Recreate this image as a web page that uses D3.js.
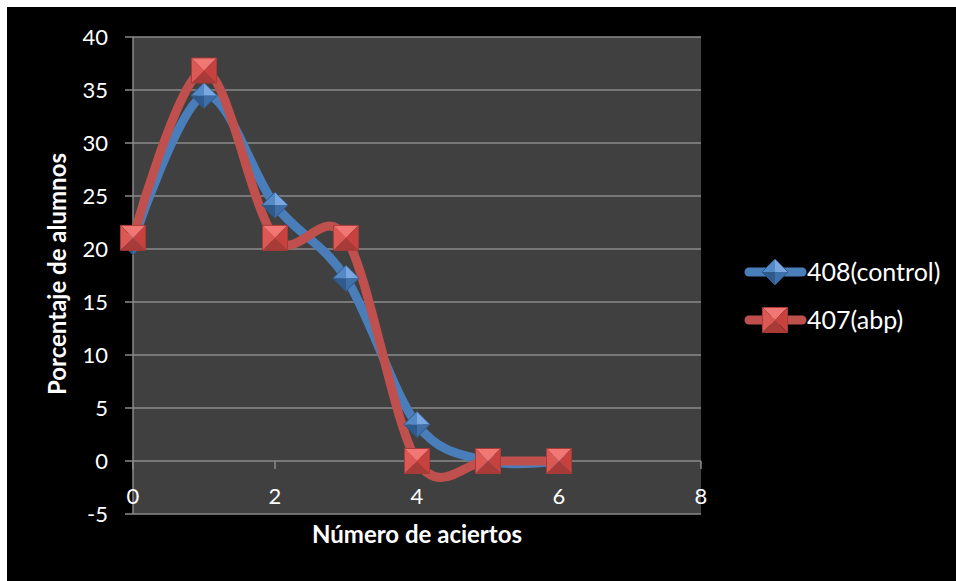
<!DOCTYPE html>
<html>
<head>
<meta charset="utf-8">
<script src="https://cdn.jsdelivr.net/npm/d3@7"></script>
<style>
  html, body { margin: 0; padding: 0; background: #ffffff; }
  svg { display: block; }
  text { font-family: Lato, "Noto Sans", sans-serif; fill: #ffffff; }
</style>
</head>
<body>
<svg id="chart" width="956" height="581"></svg>
<script>
// Aciertos (x) y porcentaje de alumnos (y) por grupo
const aciertos = [0, 1, 2, 3, 4, 5, 6];
const control408 = [20.69, 34.48, 24.14, 17.24, 3.45, 0, 0];
const abp407 = [21.05, 36.84, 21.05, 21.05, 0, 0, 0];
const seriesNames = ["408(control)", "407(abp)"];
const xTicks = [0, 2, 4, 6, 8];
const yTicks = [-5, 0, 5, 10, 15, 20, 25, 30, 35, 40];

const svg = d3.select("#chart");
const W = 956, H = 581;

// chart background
svg.append("rect").attr("x", 7).attr("y", 7).attr("width", W - 7).attr("height", H - 7).attr("fill", "#000");

const x = d3.scaleLinear().domain([0, 8]).range([133, 701]);
const y = d3.scaleLinear().domain([-5, 40]).range([514, 37]);

// plot area
svg.append("rect")
  .attr("x", x(0)).attr("y", y(40))
  .attr("width", x(8) - x(0)).attr("height", y(-5) - y(40))
  .attr("fill", "#404040");

// horizontal gridlines
svg.append("g").selectAll("line").data(yTicks).join("line")
  .attr("x1", x(0) - 8).attr("x2", x(8))
  .attr("y1", d => y(d)).attr("y2", d => y(d))
  .attr("stroke", "#8a8a8a").attr("stroke-width", 1.5);

// value axis line
svg.append("line")
  .attr("x1", x(0)).attr("x2", x(0)).attr("y1", y(40)).attr("y2", y(-5))
  .attr("stroke", "#8a8a8a").attr("stroke-width", 1.5);

// y tick labels
svg.append("g").selectAll("text").data(yTicks).join("text")
  .attr("x", x(0) - 25).attr("y", d => y(d))
  .attr("dy", "0.35em").attr("text-anchor", "end")
  .attr("font-size", 22)
  .text(d => d);

// x ticks hang from the zero line
svg.append("g").selectAll("line").data(xTicks).join("line")
  .attr("x1", d => x(d)).attr("x2", d => x(d))
  .attr("y1", y(0)).attr("y2", y(0) + 8)
  .attr("stroke", "#8a8a8a").attr("stroke-width", 1.5);

svg.append("g").selectAll("text").data(xTicks).join("text")
  .attr("x", d => x(d)).attr("y", y(0) + 35)
  .attr("dy", "0.35em").attr("text-anchor", "middle")
  .attr("font-size", 22)
  .text(d => d);

// axis titles
svg.append("text")
  .attr("x", 417).attr("y", 543)
  .attr("text-anchor", "middle").attr("font-size", 24).attr("font-weight", "bold")
  .text("Número de aciertos");

svg.append("text")
  .attr("transform", "translate(66,274) rotate(-90)")
  .attr("text-anchor", "middle").attr("font-size", 24).attr("font-weight", "bold")
  .text("Porcentaje de alumnos");

// smoothed series lines
const line = d3.line().x(d => x(d[0])).y(d => y(d[1])).curve(d3.curveCatmullRom.alpha(0));

const series = [
  { name: seriesNames[0], values: control408, color: "#4a7ebb", marker: "diamond",
    shades: ["#7aa7df", "#3f6fa8", "#2f5a8c", "#5489c7"] },
  { name: seriesNames[1], values: abp407, color: "#c0504d", marker: "square",
    shades: ["#f07773", "#c7423f", "#a83a37", "#db5854"] }
];

series.forEach(s => {
  svg.append("path")
    .datum(aciertos.map((a, i) => [a, s.values[i]]))
    .attr("d", line)
    .attr("fill", "none").attr("stroke", s.color)
    .attr("stroke-width", 9).attr("stroke-linecap", "round").attr("stroke-linejoin", "round");
});

// beveled (pyramid) marker: four triangular faces around the centre
function drawMarker(g, cx, cy, s, kind) {
  const r = kind === "square" ? 12.5 : 13;
  const pts = kind === "square"
    ? [[-r, -r], [r, -r], [r, r], [-r, r]]
    : [[0, -r], [r, 0], [0, r], [-r, 0]];
  const m = g.append("g").attr("transform", `translate(${cx},${cy})`);
  // faces: top, right, bottom, left
  for (let i = 0; i < 4; i++) {
    const a = pts[i], b = pts[(i + 1) % 4];
    m.append("path")
      .attr("d", `M${a[0]},${a[1]}L${b[0]},${b[1]}L0,0Z`)
      .attr("fill", s.shades[i]);
  }
  m.append("path")
    .attr("d", "M" + pts.map(p => p.join(",")).join("L") + "Z")
    .attr("fill", "none").attr("stroke", s.shades[2]).attr("stroke-width", 1);
}

series.forEach(s => {
  const g = svg.append("g");
  aciertos.forEach((a, i) => drawMarker(g, x(a), y(s.values[i]), s, s.marker));
});

// legend
const legendY = [272, 320];
series.forEach((s, i) => {
  const g = svg.append("g");
  g.append("line")
    .attr("x1", 749).attr("x2", 802).attr("y1", legendY[i]).attr("y2", legendY[i])
    .attr("stroke", s.color).attr("stroke-width", 9).attr("stroke-linecap", "round");
  drawMarker(g, 775, legendY[i], s, s.marker);
  g.append("text")
    .attr("x", 807).attr("y", legendY[i]).attr("dy", "0.35em")
    .attr("font-size", 25)
    .text(s.name);
});
</script>
</body>
</html>
